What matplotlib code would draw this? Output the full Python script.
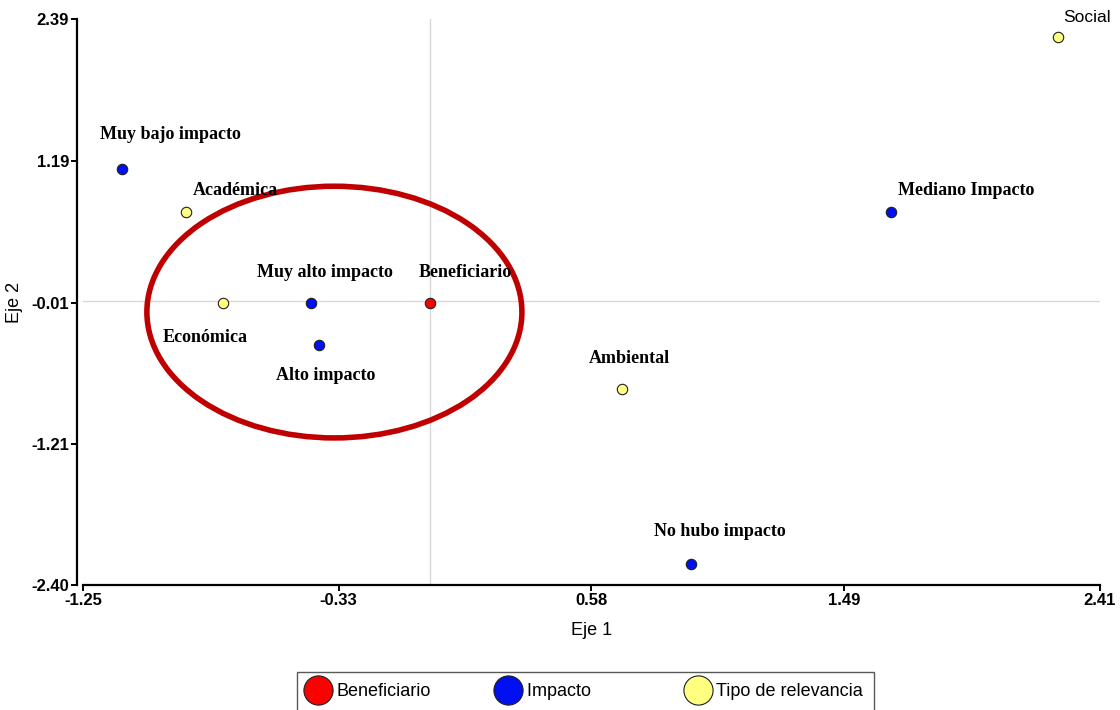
import matplotlib.pyplot as plt
from matplotlib.patches import Ellipse
from matplotlib.lines import Line2D

# Coordenadas de las categorías en el plano Eje 1 / Eje 2
beneficiario_lbl = ['Beneficiario']
beneficiario_x = [0.00]
beneficiario_y = [-0.01]

impacto_lbl = ['Muy bajo impacto', 'Muy alto impacto', 'Alto impacto',
               'No hubo impacto', 'Mediano Impacto']
impacto_x = [-1.11, -0.43, -0.40, 0.94, 1.66]
impacto_y = [1.12, -0.01, -0.37, -2.22, 0.76]

relevancia_lbl = ['Académica', 'Económica', 'Ambiental', 'Social']
relevancia_x = [-0.88, -0.745, 0.69, 2.26]
relevancia_y = [0.76, -0.01, -0.74, 2.24]

xticks = [-1.25, -0.33, 0.58, 1.49, 2.41]
yticks = [-2.40, -1.21, -0.01, 1.19, 2.39]

# desplazamiento de cada etiqueta (puntos) respecto a su marcador
offsets = {
    'Beneficiario': (-8, 22), 'Muy bajo impacto': (-16, 25),
    'Muy alto impacto': (-39, 22), 'Alto impacto': (-31, -22),
    'No hubo impacto': (-27, 23), 'Mediano Impacto': (5, 15),
    'Académica': (5, 15), 'Económica': (-44, -25),
    'Ambiental': (-24, 22), 'Social': (4, 14),
}

fig = plt.figure(figsize=(11.2, 7.1), dpi=100)
ax = fig.add_axes([0.0741, 0.176, 0.9078, 0.7972])

# ejes: el vertical separado un poco del horizontal (antes de fijar ticks)
for s in ['top', 'right']:
    ax.spines[s].set_visible(False)
ax.spines['left'].set_position(('outward', 4))
ax.spines['left'].set_linewidth(1.6)
ax.spines['bottom'].set_linewidth(1.6)

ax.axhline(0, color='#d8d8d8', lw=1, zorder=0)
ax.axvline(0, color='#d8d8d8', lw=1, zorder=0)

series = [
    (beneficiario_lbl, beneficiario_x, beneficiario_y, '#ff0000'),
    (impacto_lbl, impacto_x, impacto_y, '#0010f0'),
    (relevancia_lbl, relevancia_x, relevancia_y, '#ffff80'),
]
for labels, xs, ys, col in series:
    ax.plot(xs, ys, 'o', color=col, markeredgecolor='#202020',
            markeredgewidth=0.8, markersize=7.5, zorder=3)
    for lbl, x, y in zip(labels, xs, ys):
        if lbl == 'Social':
            fam, wt, fs = 'Liberation Sans', 'normal', 12.5
        else:
            fam, wt, fs = 'Liberation Serif', 'bold', 13
        ax.annotate(lbl, (x, y), xytext=offsets[lbl], textcoords='offset points',
                    ha='left', va='center', family=fam, weight=wt,
                    fontsize=fs, zorder=4)

# elipse que agrupa las categorías cercanas al origen
ax.add_patch(Ellipse((-0.345, -0.09), 1.35, 2.13, fill=False,
                     edgecolor='#c00000', lw=4, zorder=2))

ax.set_xlim(-1.25, 2.41)
ax.set_ylim(-2.40, 2.39)
tick_font = dict(family=['Liberation Sans Narrow', 'Liberation Sans'],
                 weight='bold', size=12)
ax.set_xticks(xticks, [f'{t:.2f}' for t in xticks], fontdict=tick_font)
ax.set_yticks(yticks, [f'{t:.2f}' for t in yticks], fontdict=tick_font)
ax.tick_params(direction='out', length=4, width=1.4, pad=2)

ax.set_xlabel('Eje 1', family='Liberation Sans', fontsize=13, labelpad=10)
ax.set_ylabel('Eje 2', family='Liberation Sans', fontsize=13, labelpad=6)

handles = [Line2D([], [], ls='', marker='o', markersize=21, color=c,
                  markeredgecolor='#202020', markeredgewidth=0.8)
           for c in ['#ff0000', '#0010f0', '#ffff80']]
fig.legend(handles, ['Beneficiario', 'Impacto      ', 'Tipo de relevancia'],
           loc='upper left', bbox_to_anchor=(297 / 1120, 1 - 672 / 710),
           borderaxespad=0, ncol=3, frameon=True, fancybox=False,
           edgecolor='#303030',
           prop={'family': 'Liberation Sans', 'size': 13},
           columnspacing=3.7, handletextpad=0.5, borderpad=0.6,
           handlelength=1.1)

fig.savefig('out.png', dpi=100)
